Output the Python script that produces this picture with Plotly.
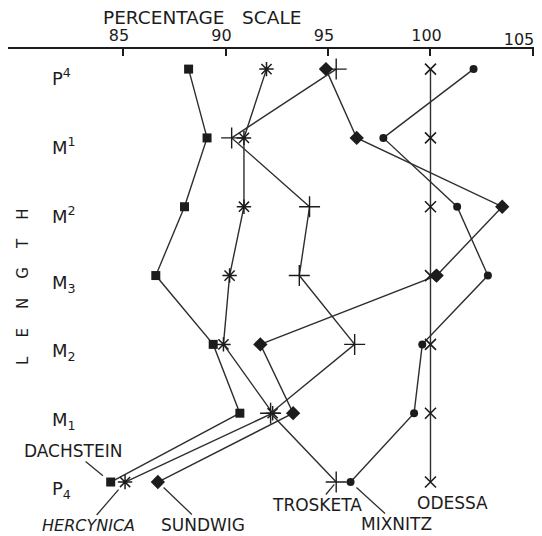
import plotly.graph_objects as go

# Row (tooth) labels, top to bottom
rows = ["P<sup>4</sup>", "M<sup>1</sup>", "M<sup>2</sup>", "M<sub>3</sub>",
        "M<sub>2</sub>", "M<sub>1</sub>", "P<sub>4</sub>"]

# Percentage-scale values per population (Odessa = 100 reference)
dachstein = [88.2, 89.1, 88.0, 86.6, 89.4, 90.7, 84.4]
hercynica = [92.0, 90.9, 90.9, 90.2, 89.9, 92.3, 85.1]
sundwig   = [94.9, 96.4, 103.5, 100.3, 91.7, 93.3, 86.7]
trosketa  = [95.4, 90.3, 94.1, 93.6, 96.3, 92.2, 95.4]
mixnitz   = [102.1, 97.7, 101.3, 102.8, 99.6, 99.2, 96.1]
odessa    = [100, 100, 100, 100, 100, 100, 100]

x_ticks = [85, 90, 95, 100, 105]
x_tick_labels = ["85", "90", "95", "100", "105"]

FONT = "DejaVu Sans"
INK = "#1c1c1c"
LINE = "#2e2e2e"

H = 528
T = 41
PH = H - T
ROW0 = 69.1 - 8      # first row, figure px
ROWSTEP = 68.82

def py(fig_y):
    return (H - fig_y) / PH

fig = go.Figure()

series = [
    ("DACHSTEIN", dachstein, dict(symbol="square", size=9, color=INK)),
    ("HERCYNICA", hercynica, dict(symbol="asterisk-open", size=12, color=INK, line=dict(width=1.5, color=INK))),
    ("SUNDWIG", sundwig, dict(symbol="diamond", size=11, color=INK)),
    ("TROSKETA", trosketa, dict(symbol="cross-thin-open", size=15, color=INK, line=dict(width=1.4, color=INK))),
    ("MIXNITZ", mixnitz, dict(symbol="circle", size=8, color=INK)),
    ("ODESSA", odessa, dict(symbol="x-thin-open", size=11, color=INK, line=dict(width=1.6, color=INK))),
]

for name, vals, mk in series:
    fig.add_trace(go.Scatter(
        x=vals, y=rows, mode="lines+markers", name=name,
        line=dict(color=LINE, width=1.4),
        marker=mk, showlegend=False, cliponaxis=False,
    ))

# empty trace so the overlay axis (carrying the last tick label) is drawn
fig.add_trace(go.Scatter(x=[], y=[], xaxis="x2", yaxis="y", showlegend=False,
                         hoverinfo="skip"))

# Row labels
for r in rows:
    fig.add_annotation(
        x=0.0797, xref="paper", y=r, yref="y", text=r, showarrow=False,
        xanchor="left", yanchor="middle", yshift=-8,
        font=dict(family=FONT, size=18, color=INK),
    )

# Vertical axis title
fig.add_annotation(
    x=0.0285, xref="paper", y=py(279), yref="paper",
    text="L\u00a0\u00a0\u00a0\u00a0E\u00a0\u00a0\u00a0\u00a0N\u00a0\u00a0\u00a0\u00a0G\u00a0\u00a0\u00a0\u00a0T\u00a0\u00a0\u00a0\u00a0H",
    textangle=-90, showarrow=False, xanchor="center", yanchor="middle",
    font=dict(family=FONT, size=15, color=INK),
)

# Top title
fig.add_annotation(
    x=0.369, xref="paper", y=py(10), yref="paper",
    text="PERCENTAGE\u00a0\u00a0\u00a0SCALE", showarrow=False,
    xanchor="center", yanchor="middle",
    font=dict(family=FONT, size=18.5, color=INK),
)

# Population labels with leader lines (pointing at the lower P4 point)
last = rows[-1]
labels = [
    ("DACHSTEIN", dachstein[-1], -38, -31, 10, False),
    ("HERCYNICA", hercynica[-1], -37, 43, 10, True),
    ("SUNDWIG", sundwig[-1], 45, 43, 8, False),
    ("TROSKETA", trosketa[-1], -19, 23, 3, False),
    ("MIXNITZ", mixnitz[-1], 46, 42, 8, False),
]
for txt, xv, ax, ay, so, ital in labels:
    t = f"<i>{txt}</i>" if ital else txt
    fig.add_annotation(
        x=xv, y=last, xref="x", yref="y", text=t,
        showarrow=True, ax=ax, ay=ay, arrowhead=0, arrowwidth=1.3,
        arrowcolor=LINE, standoff=so, startstandoff=0,
        font=dict(family=FONT, size=16 if ital else 17, color=INK),
        borderpad=0,
    )
fig.add_annotation(
    x=odessa[-1], y=last, xref="x", yref="y", text="ODESSA",
    showarrow=False, xshift=22, yshift=-21,
    font=dict(family=FONT, size=17, color=INK),
)

y_top = -(ROW0 - T) / ROWSTEP
y_bot = y_top + PH / ROWSTEP

fig.update_layout(
    width=534, height=H,
    margin=dict(l=0, r=7, t=T, b=0),
    paper_bgcolor="white", plot_bgcolor="white",
    xaxis=dict(
        side="top", range=[79.390, 105.098], tickvals=x_ticks,
        ticktext=x_tick_labels[:-1] + [""],
        ticks="inside", ticklen=7, tickwidth=1.5, tickcolor=INK,
        showline=True, linecolor=INK, linewidth=2, mirror=False,
        showgrid=False, zeroline=False,
        tickfont=dict(family=FONT, size=16, color=INK),
        ticklabeloverflow="allow", ticklabelshift=-4,
    ),
    xaxis2=dict(
        overlaying="x", matches="x", side="top", anchor="y",
        tickvals=x_ticks[-1:], ticktext=x_tick_labels[-1:],
        ticks="inside", ticklen=7, tickcolor="rgba(0,0,0,0)",
        showline=False, showgrid=False, zeroline=False,
        tickfont=dict(family=FONT, size=16, color=INK),
        ticklabeloverflow="allow", ticklabelshift=-14,
    ),
    yaxis=dict(
        type="category", categoryorder="array", categoryarray=rows,
        range=[y_bot, y_top], showticklabels=False, showgrid=False,
        showline=False, zeroline=False, ticks="",
    ),
)

fig.write_html("out.html")
